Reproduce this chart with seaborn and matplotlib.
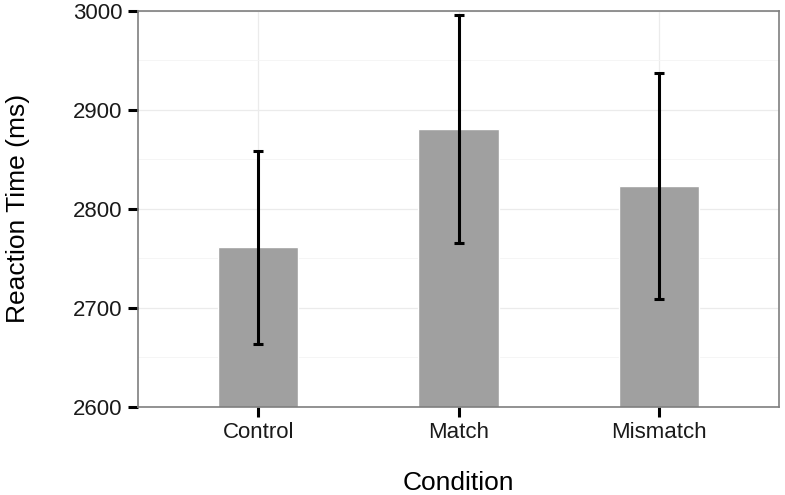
import matplotlib
matplotlib.use("Agg")
import matplotlib.pyplot as plt
import numpy as np
import pandas as pd
import seaborn as sns
from matplotlib.ticker import MultipleLocator

# values
conditions = ["Control", "Match", "Mismatch"]
mean_rt = [2761, 2881, 2823]
err_rt = [97, 115, 114]

df = pd.DataFrame({"Condition": conditions, "RT": mean_rt, "err": err_rt})

sns.set_theme(style="white")
plt.rcParams["font.family"] = ["Liberation Sans", "DejaVu Sans"]

fig = plt.figure(figsize=(7.85, 4.95), dpi=100)
ax = fig.add_axes([0.1758, 0.1778, 0.8166, 0.8006])

sns.barplot(data=df, x="Condition", y="RT", color="#a0a0a0", saturation=1,
            width=0.4, ax=ax, zorder=2)
ax.errorbar(np.arange(len(conditions)), df["RT"], yerr=df["err"], fmt="none",
            ecolor="black", elinewidth=2.2, capsize=3.5, capthick=2.2, zorder=3)

ax.set_ylim(2600, 3000)
ax.set_xlim(-0.6, 2.6)
ax.yaxis.set_major_locator(MultipleLocator(100))
ax.yaxis.set_minor_locator(MultipleLocator(50))
ax.grid(which="major", color="#ebebeb", linewidth=0.9, zorder=0)
ax.grid(which="minor", axis="y", color="#f4f4f4", linewidth=0.6, zorder=0)
ax.set_axisbelow(True)

for s in ax.spines.values():
    s.set_color("#7f7f7f")
    s.set_linewidth(1.2)

ax.tick_params(axis="both", which="major", length=7, width=2.2, color="black",
               labelsize=16, labelcolor="#1a1a1a", pad=4, left=True, bottom=True)
ax.tick_params(axis="y", which="minor", length=0)

ax.set_xlabel("Condition", fontsize=19, labelpad=20, color="black")
ax.set_ylabel("Reaction Time (ms)", fontsize=19, labelpad=31, color="black")

fig.savefig("out.png", dpi=100)
